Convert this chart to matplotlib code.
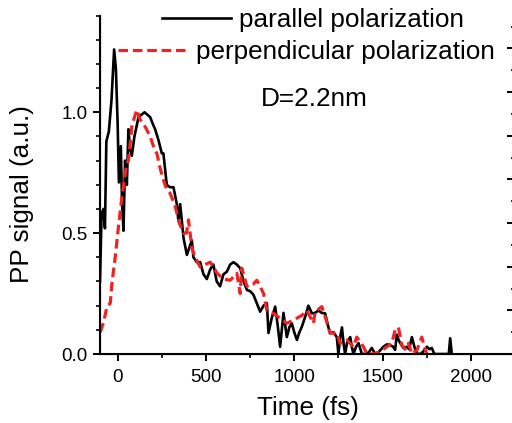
import matplotlib
matplotlib.use("Agg")
import matplotlib.pyplot as plt
from matplotlib.ticker import MultipleLocator, NullFormatter

plt.rcParams['font.family'] = ['Liberation Sans', 'DejaVu Sans']

# ---- data ----
t_par = [-100, -92, -86, -80, -72, -64, -50, -35, -20, -10, 0, 7, 18, 25, 33, 42, 52, 61, 70, 80,
         95, 118, 135, 152, 168, 184, 200, 212, 231, 250, 259, 278, 297, 316, 335, 344, 354, 373,
         392, 420, 429, 448, 467, 486, 505, 524, 542, 561, 580, 599, 618, 637, 656, 675, 694, 713,
         732, 750, 769, 788, 807, 826, 845, 854, 873, 892, 906, 920, 939, 958, 972, 986, 1000,
         1015, 1029, 1043, 1060, 1080, 1100, 1118, 1137, 1156, 1175, 1190, 1203, 1222, 1241, 1250,
         1260, 1270, 1280, 1288, 1300, 1317, 1326, 1335, 1350, 1364, 1383, 1410, 1425, 1439, 1458,
         1480, 1505, 1525, 1543, 1560, 1571, 1581, 1590, 1600, 1618, 1637, 1650, 1666, 1685, 1700,
         1713, 1730, 1751, 1765, 1779, 1793, 1807, 1850, 1875, 1883, 1892]
y_par = [0.30, 0.55, 0.59, 0.60, 0.52, 0.88, 0.92, 1.05, 1.26, 1.18, 0.95, 0.71, 0.86, 0.62, 0.51,
         0.80, 0.70, 0.93, 0.85, 0.82, 0.90, 0.98, 0.99, 1.00, 0.99, 0.98, 0.95, 0.93, 0.885, 0.83,
         0.83, 0.70, 0.69, 0.69, 0.62, 0.55, 0.62, 0.48, 0.41, 0.47, 0.40, 0.38, 0.38, 0.33, 0.31,
         0.35, 0.37, 0.30, 0.28, 0.33, 0.34, 0.37, 0.38, 0.37, 0.355, 0.30, 0.265, 0.26, 0.245,
         0.21, 0.175, 0.20, 0.21, 0.087, 0.15, 0.196, 0.12, 0.03, 0.17, 0.07, 0.11, 0.127, 0.09,
         0.058, 0.09, 0.113, 0.15, 0.20, 0.168, 0.17, 0.18, 0.17, 0.168, 0.12, 0.086, 0.09, 0.07,
         0.0, 0.07, 0.11, 0.04, 0.0, 0.05, 0.07, 0.03, 0.0, 0.03, 0.045, 0.0, 0.0, 0.01, 0.025,
         0.0, 0.01, 0.03, 0.04, 0.037, 0.03, 0.017, 0.08, 0.06, 0.045, 0.025, 0.03, 0.02, 0.07,
         0.017, 0.0, 0.0, 0.01, 0.03, 0.02, 0.025, 0.0, 0.0, 0.0, 0.0, 0.065, 0.0]

t_perp = [-99, -80, -61, -42, -33, -14, 5, 24, 52, 61, 80, 95, 109, 127, 156, 184, 212, 222, 240,
          259, 278, 297, 326, 350, 373, 390, 401, 420, 439, 467, 495, 524, 543, 562, 599, 637, 675,
          694, 703, 732, 750, 769, 788, 807, 826, 845, 882, 920, 958, 996, 1043, 1071, 1109, 1118,
          1156, 1175, 1203, 1241, 1260, 1298, 1335, 1354, 1392, 1411, 1450, 1486, 1524, 1553, 1571,
          1590, 1609, 1628, 1647, 1666, 1694, 1722, 1741, 1751]
y_perp = [0.09, 0.13, 0.195, 0.21, 0.29, 0.40, 0.53, 0.65, 0.79, 0.80, 0.94, 0.98, 1.01, 0.97, 0.94,
          0.90, 0.84, 0.83, 0.77, 0.72, 0.68, 0.665, 0.61, 0.54, 0.50, 0.50, 0.555, 0.44, 0.40,
          0.36, 0.37, 0.38, 0.36, 0.335, 0.31, 0.305, 0.334, 0.25, 0.355, 0.28, 0.29, 0.29, 0.305,
          0.28, 0.25, 0.18, 0.168, 0.148, 0.127, 0.14, 0.16, 0.18, 0.127, 0.175, 0.196, 0.154,
          0.086, 0.086, 0.044, 0.058, 0.03, 0.07, 0.03, 0.0, 0.0, 0.01, 0.03, 0.044, 0.10, 0.11,
          0.037, 0.02, 0.044, 0.0, 0.015, 0.07, 0.02, 0.0]

label_par = "parallel polarization"
label_perp = "perpendicular polarization"
annotation = "D=2.2nm"

W, H = 512, 423
fig = plt.figure(figsize=(W / 100, H / 100), dpi=100)
ax = fig.add_axes([100 / W, 69 / H, 415 / W, 338.4 / H])

red = '#ee2424'
lp, = ax.plot(t_par, y_par, color='black', lw=1.9, solid_joinstyle='round')
lr, = ax.plot(t_perp, y_perp, color=red, lw=2.3, dashes=(3, 1.5))

ax.set_xlim(-100, 2250)
ax.set_ylim(0, 1.4)
ax.xaxis.set_major_locator(MultipleLocator(500))
ax.xaxis.set_minor_locator(MultipleLocator(250))
ax.yaxis.set_major_locator(MultipleLocator(0.5))
ax.yaxis.set_minor_locator(MultipleLocator(0.1))
ax.set_yticks([0.0, 0.5, 1.0])
ax.set_yticklabels(['0.0', '0.5', '1.0'])
ax.tick_params(axis='both', which='major', direction='out', length=5, width=1.4,
               labelsize=13.5, pad=4)
ax.tick_params(axis='both', which='minor', direction='out', length=3, width=1.2)
ax.tick_params(axis='x', which='major', pad=6)
ax.tick_params(top=False, right=False)
for s in ['left', 'bottom', 'right']:
    ax.spines[s].set_linewidth(1.5)
ax.spines['top'].set_visible(False)

ax.set_xlabel('Time (fs)', fontsize=18.8)
ax.set_ylabel('PP signal (a.u.)', fontsize=18.8)
ax.xaxis.set_label_coords(0.502, -0.125)
ax.yaxis.set_label_coords(-0.16, 0.473)

ax2 = ax.twinx()
ax2.set_ylim(0, 1.55)
ax2.yaxis.set_major_locator(MultipleLocator(0.2))
ax2.yaxis.set_minor_locator(MultipleLocator(0.1))
ax2.yaxis.set_major_formatter(NullFormatter())
ax2.tick_params(axis='y', which='major', direction='in', length=5.5, width=1.4)
ax2.tick_params(axis='y', which='minor', direction='in', length=3.2, width=1.2)
ax2.spines['top'].set_visible(False)
ax2.spines['right'].set_linewidth(1.5)

# legend entries (two rows, individually placed as in the reference)
leg1 = fig.legend([lp], [label_par], loc='center left', frameon=False, fontsize=18.8,
                  handlelength=2.65, handletextpad=0.3, borderpad=0, borderaxespad=0,
                  bbox_to_anchor=(162 / W, 1 - 20 / H))
leg2 = fig.legend([lr], [label_perp], loc='center left', frameon=False, fontsize=18.8,
                  handlelength=2.55, handletextpad=0.42, borderpad=0, borderaxespad=0,
                  bbox_to_anchor=(118 / W, 1 - 52 / H))

fig.text(260.7 / W, 1 - 106 / H, annotation, fontsize=18.8, va='baseline', ha='left')

fig.savefig('out.png', dpi=100)
